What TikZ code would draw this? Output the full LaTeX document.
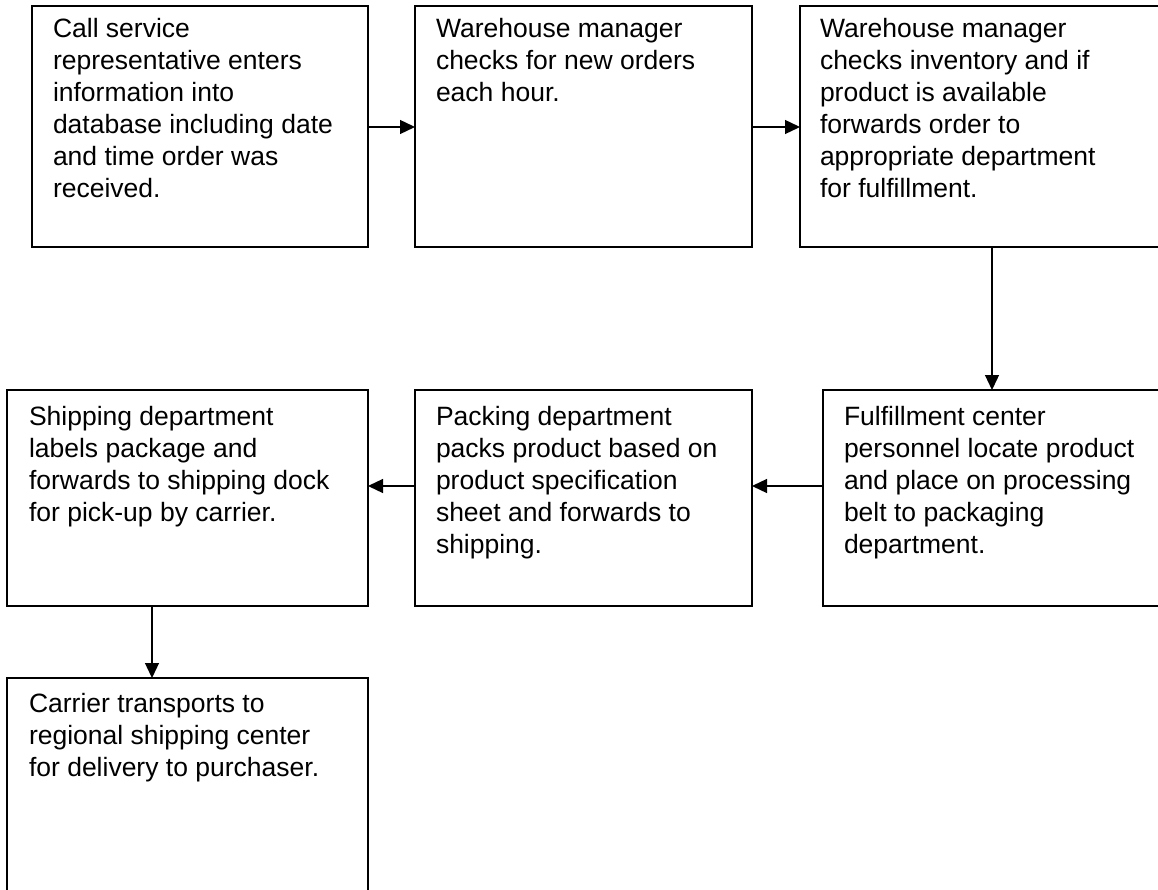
\documentclass[tikz,border=0pt]{standalone}
\usepackage{fontspec}
\setmainfont{Liberation Sans}
\usetikzlibrary{arrows.meta,calc}

% Left-aligned lines whose reference point is the first baseline
\newcommand\steptext[1]{\vtop{\baselineskip=32pt\lineskiplimit=-100pt\halign{##\hfil\cr#1\crcr}}}

\tikzset{
  stepbox/.style={draw=black, line width=1.6pt, rectangle, inner sep=0pt, outer sep=0pt, anchor=north west},
  steplabel/.style={anchor=base west, inner sep=0pt, outer sep=0pt, font=\fontsize{26.5}{32}\selectfont},
  flow/.style={draw=black, line width=1.3pt, -{Triangle[length=15pt,width=14pt]}}
}

\begin{document}
\begin{tikzpicture}[x=1pt,y=-1pt]
\useasboundingbox (0,0) rectangle (1158,890);
\clip (0,0) rectangle (1158,890);

% first row
\node[stepbox, minimum width=336pt, minimum height=241pt] (b1) at (32,6) {};
\node[stepbox, minimum width=337pt, minimum height=241pt] (b2) at (415,6) {};
\node[stepbox, minimum width=370pt, minimum height=241pt] (b3) at (800,6) {};
% second row
\node[stepbox, minimum width=347pt, minimum height=216pt] (b4) at (823,390) {};
\node[stepbox, minimum width=337pt, minimum height=216pt] (b5) at (415,390) {};
\node[stepbox, minimum width=361pt, minimum height=216pt] (b6) at (7,390) {};
% last box
\node[stepbox, minimum width=361pt, minimum height=222pt] (b7) at (7,678) {};

% texts
\node[steplabel] (t1) at ($(b1.north west)+(21,32)$) {\steptext{Call service\cr representative enters\cr information into\cr database including date\cr and time order was\cr received.}};
\node[steplabel] (t2) at ($(b2.north west)+(21,32)$) {\steptext{Warehouse manager\cr checks for new orders\cr each hour.}};
\node[steplabel] (t3) at ($(b3.north west)+(20,32)$) {\steptext{Warehouse manager\cr checks inventory and if\cr product is available\cr forwards order to\cr appropriate department\cr for fulfillment.}};
\node[steplabel] (t4) at ($(b4.north west)+(21,35)$) {\steptext{Fulfillment center\cr personnel locate product\cr and place on processing\cr belt to packaging\cr department.}};
\node[steplabel] (t5) at ($(b5.north west)+(21,35)$) {\steptext{Packing department\cr packs product based on\cr product specification\cr sheet and forwards to\cr shipping.}};
\node[steplabel] (t6) at ($(b6.north west)+(22,35)$) {\steptext{Shipping department\cr labels package and\cr forwards to shipping dock\cr for pick-up by carrier.}};
\node[steplabel] (t7) at ($(b7.north west)+(22,34)$) {\steptext{Carrier transports to\cr regional shipping center\cr for delivery to purchaser.}};

% connector guides
\coordinate (r1) at (0,127);
\coordinate (r2) at (0,486);
\coordinate (c3) at (992,0);
\coordinate (c6) at (152,0);

\draw[flow] (b1.east |- r1) -- (b2.west |- r1);
\draw[flow] (b2.east |- r1) -- (b3.west |- r1);
\draw[flow] (c3 |- b3.south) -- (c3 |- b4.north);
\draw[flow] (b4.west |- r2) -- (b5.east |- r2);
\draw[flow] (b5.west |- r2) -- (b6.east |- r2);
\draw[flow] (c6 |- b6.south) -- (c6 |- b7.north);
\end{tikzpicture}
\end{document}
